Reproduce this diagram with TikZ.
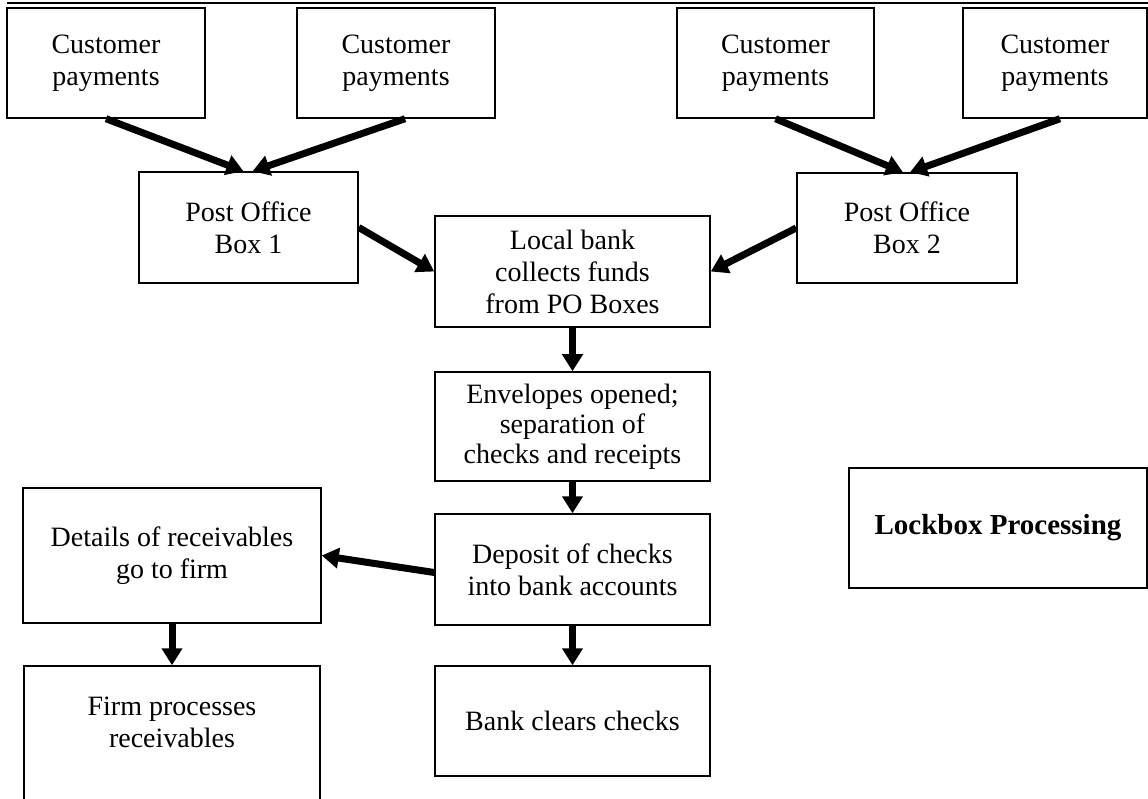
\documentclass[tikz,border=0pt]{standalone}
\usepackage{fontspec}
\setmainfont{Liberation Serif}
\usetikzlibrary{arrows.meta}
\tikzset{
  flowbox/.style={draw, line width=1.5pt, align=center, inner sep=0pt,
    font=\fontsize{28}{32}\selectfont},
  flowarrow/.style={line width=7pt, -{Triangle[length=17pt,width=20pt]}},
  topline/.style={line width=2pt}
}
\begin{document}
\begin{tikzpicture}[x=1pt, y=-1pt]
\useasboundingbox (0,0) rectangle (1148,799);
\clip (0,0) rectangle (1148,799);
% header rule
\coordinate (hl) at (7,3);
\coordinate (hr) at (1148,3);
\draw[topline] (hl) -- (hr);
% customer boxes
\node[flowbox, minimum width=198pt, minimum height=110pt] (c1) at (106,63) {Customer\\payments};
\node[flowbox, minimum width=198pt, minimum height=110pt] (c2) at (396,63) {Customer\\payments};
\node[flowbox, minimum width=197pt, minimum height=110pt] (c3) at (775.5,63) {Customer\\payments};
\node[flowbox, minimum width=184pt, minimum height=110pt] (c4) at (1055,63) {Customer\\payments};
% post office boxes
\node[flowbox, minimum width=219pt, minimum height=111pt] (po1) at (248.5,227.5) {Post Office\\Box 1};
\node[flowbox, minimum width=220pt, minimum height=110pt] (po2) at (907,228) {Post Office\\Box 2};
% central column
\node[flowbox, minimum width=275pt, minimum height=111pt] (bank) at (572.5,271.5) {Local bank\\collects funds\\from PO Boxes};
\node[flowbox, minimum width=275pt, minimum height=109pt, font=\fontsize{28}{30}\selectfont] (env) at (572.5,426.5) {Envelopes opened;\\separation of\\checks and receipts};
\node[flowbox, minimum width=275pt, minimum height=111pt] (dep) at (572.5,569.5) {Deposit of checks\\into bank accounts};
\node[flowbox, minimum width=275pt, minimum height=110pt] (clr) at (572.5,721) {Bank clears checks};
% left column
\node[flowbox, minimum width=298pt, minimum height=135pt] (det) at (172,555.5) {Details of receivables\\go to firm};
\node[flowbox, minimum width=296pt, minimum height=164pt] (firm) at (172,748) {};
\node[font=\fontsize{28}{32}\selectfont, align=center, inner sep=0pt] (firmtext) at (172,722) {Firm processes\\receivables};
% title box
\node[flowbox, minimum width=298pt, minimum height=120pt, font=\fontsize{29}{32}\selectfont\bfseries] (lock) at (998,528) {Lockbox Processing};
% arrows
\draw[flowarrow] (c1.south) -- ([xshift=-5pt]po1.north);
\draw[flowarrow] ([xshift=9pt]c2.south) -- ([xshift=4pt]po1.north);
\draw[flowarrow] (c3.south) -- ([xshift=-4pt]po2.north);
\draw[flowarrow] ([xshift=5pt]c4.south) -- ([xshift=3pt]po2.north);
\draw[flowarrow] (po1.east) -- (bank.west);
\draw[flowarrow] (po2.west) -- (bank.east);
\draw[flowarrow] (bank.south) -- (env.north);
\draw[flowarrow] (env.south) -- (dep.north);
\draw[flowarrow] (dep.south) -- (clr.north);
\draw[flowarrow] ([yshift=-3pt]dep.west) -- (det.east);
\draw[flowarrow] (det.south) -- (firm.north);
\end{tikzpicture}
\end{document}
